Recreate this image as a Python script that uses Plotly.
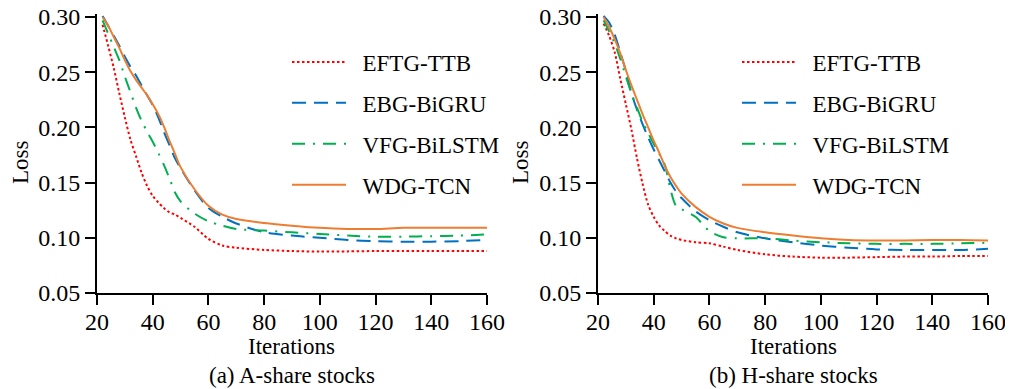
import plotly.graph_objects as go

# ---------------- data ----------------
iters = [22, 24, 26, 28, 30, 32, 34, 36, 38, 40, 42, 44, 46, 48, 50,
         55, 60, 65, 70, 80, 90, 100, 110, 120, 130, 140, 150, 160]

series_names = ["EFTG-TTB", "EBG-BiGRU", "VFG-BiLSTM", "WDG-TCN"]

# (a) A-share stocks
a_eftg = [0.293, 0.274, 0.254, 0.231, 0.209, 0.189, 0.174, 0.159, 0.147, 0.138,
          0.132, 0.127, 0.123, 0.121, 0.118, 0.110, 0.099, 0.093, 0.091, 0.089,
          0.088, 0.0875, 0.0877, 0.088, 0.088, 0.088, 0.088, 0.088]
a_ebg = [0.301, 0.292, 0.283, 0.274, 0.264, 0.255, 0.247, 0.238, 0.229, 0.220,
         0.209, 0.196, 0.184, 0.172, 0.163, 0.143, 0.127, 0.119, 0.113, 0.105,
         0.102, 0.100, 0.098, 0.097, 0.0965, 0.0965, 0.097, 0.098]
a_vfg = [0.297, 0.285, 0.273, 0.261, 0.246, 0.232, 0.218, 0.206, 0.196, 0.187,
         0.177, 0.166, 0.154, 0.141, 0.133, 0.122, 0.115, 0.111, 0.108, 0.1065,
         0.105, 0.1035, 0.102, 0.101, 0.101, 0.1015, 0.102, 0.103]
a_wdg = [0.300, 0.292, 0.282, 0.272, 0.261, 0.251, 0.243, 0.236, 0.229, 0.221,
         0.212, 0.201, 0.188, 0.176, 0.164, 0.144, 0.129, 0.121, 0.117, 0.1135,
         0.111, 0.109, 0.108, 0.108, 0.109, 0.109, 0.109, 0.109]

# (b) H-share stocks
h_eftg = [0.294, 0.283, 0.268, 0.244, 0.221, 0.198, 0.172, 0.149, 0.130, 0.119,
          0.111, 0.106, 0.102, 0.0995, 0.098, 0.096, 0.095, 0.092, 0.089, 0.085,
          0.083, 0.082, 0.082, 0.0825, 0.083, 0.083, 0.0835, 0.0835]
h_ebg = [0.301, 0.295, 0.284, 0.268, 0.251, 0.231, 0.216, 0.203, 0.191, 0.180,
         0.170, 0.160, 0.150, 0.142, 0.136, 0.124, 0.116, 0.110, 0.105, 0.0995,
         0.096, 0.093, 0.091, 0.0895, 0.089, 0.089, 0.089, 0.090]
h_vfg = [0.297, 0.287, 0.276, 0.262, 0.246, 0.231, 0.218, 0.205, 0.195, 0.185,
         0.176, 0.166, 0.144, 0.129, 0.126, 0.119, 0.106, 0.1005, 0.0995, 0.0995,
         0.0975, 0.096, 0.095, 0.0945, 0.0945, 0.0945, 0.095, 0.0955]
h_wdg = [0.300, 0.291, 0.280, 0.267, 0.252, 0.238, 0.225, 0.212, 0.200, 0.188,
         0.177, 0.165, 0.155, 0.147, 0.140, 0.128, 0.119, 0.113, 0.109, 0.105,
         0.102, 0.0995, 0.098, 0.0975, 0.0975, 0.098, 0.098, 0.0975]

x_ticks = [20, 40, 60, 80, 100, 120, 140, 160]
y_ticks = [0.05, 0.10, 0.15, 0.20, 0.25, 0.30]
panel_titles = ["(a) A-share stocks", "(b) H-share stocks"]
x_title = "Iterations"
y_title = "Loss"

# ---------------- style ----------------
colors = ["#FF0000", "#0070C0", "#00B050", "#ED7D31"]
dashes = ["2.5px,2.5px", "14px,8px", "13px,8px,2px,8px", "solid"]
FONT = "Liberation Serif, Times New Roman, serif"
FS = 23
TFS = 24

fig = go.Figure()
panels = [
    ([a_eftg, a_ebg, a_vfg, a_wdg], "x", "y", "legend"),
    ([h_eftg, h_ebg, h_vfg, h_wdg], "x2", "y2", "legend2"),
]
NB = "\u00a0\u00a0"
for pi, (vals, xa, ya, lg) in enumerate(panels):
    for i, v in enumerate(vals):
        fig.add_trace(go.Scatter(
            x=iters, y=v, mode="lines", name=NB + series_names[i],
            xaxis=xa, yaxis=ya, legend=lg,
            legendgroup=f"{lg}_{i}",
            line=dict(color=colors[i], width=2, dash=dashes[i],
                      shape="spline", smoothing=0.8),
        ))

# page body has an 8px margin: work in screen pixels, convert to figure pixels
OFF = 8
W, H = 1013 - OFF, 389 - OFF
L, R, T, B = 97 - OFF, 1013 - 988, 6, 389 - 293
pw = W - L - R
ph = H - T - B

def px_x(sx):
    return (sx - OFF - L) / pw

def px_y(sy):
    return 1 - (sy - OFF - T) / ph

axis_common = dict(
    showline=True, linecolor="black", linewidth=2,
    ticks="outside", ticklen=10, tickwidth=2, tickcolor="black",
    showgrid=False, zeroline=False, automargin=False,
    ticklabeloverflow="allow",
    tickfont=dict(family=FONT, size=TFS, color="black"),
)
xdomA = [0, px_x(487)]
xdomB = [px_x(598), 1]
yr = [0.05, 0.30 + 3 * 0.25 / 276]
leg_common = dict(xanchor="left", yanchor="top", bgcolor="rgba(0,0,0,0)",
                  itemwidth=54, traceorder="grouped", tracegroupgap=8,
                  borderwidth=0, font=dict(family=FONT, size=FS, color="black"))
fig.update_layout(
    template="none",
    width=W, height=H,
    margin=dict(l=L, r=R, t=T, b=B, autoexpand=False),
    paper_bgcolor="white", plot_bgcolor="white",
    font=dict(family=FONT, size=FS, color="black"),
    xaxis=dict(domain=xdomA, range=[20, 160], tickvals=x_ticks, anchor="y",
               ticklabelstandoff=-4, **axis_common),
    yaxis=dict(domain=[0, 1], range=yr, tickvals=y_ticks, tickformat=".2f", anchor="x", **axis_common),
    xaxis2=dict(domain=xdomB, range=[20, 160], tickvals=x_ticks, anchor="y2",
                ticklabelstandoff=-4, **axis_common),
    yaxis2=dict(domain=[0, 1], range=yr, tickvals=y_ticks, tickformat=".2f", anchor="x2", **axis_common),
    legend=dict(x=px_x(287), y=px_y(40.5), **leg_common),
    legend2=dict(x=px_x(737), y=px_y(40.5), **leg_common),
)

ann = []
for cx_l, cx_t, lx, pt in [(291.5, 292, 20, panel_titles[0]), (793.5, 793, 520, panel_titles[1])]:
    ann.append(dict(text=x_title, x=px_x(cx_l), y=px_y(346), xref="paper", yref="paper",
                    xanchor="center", yanchor="middle", showarrow=False,
                    font=dict(family=FONT, size=FS, color="black")))
    ann.append(dict(text=pt, x=px_x(cx_t), y=px_y(375), xref="paper", yref="paper",
                    xanchor="center", yanchor="middle", showarrow=False,
                    font=dict(family=FONT, size=FS, color="black")))
    ann.append(dict(text=y_title, x=px_x(lx), y=px_y(162), xref="paper", yref="paper",
                    xanchor="center", yanchor="middle", showarrow=False, textangle=-90,
                    font=dict(family=FONT, size=FS, color="black")))
fig.update_layout(annotations=ann)

fig.write_html("out.html")
